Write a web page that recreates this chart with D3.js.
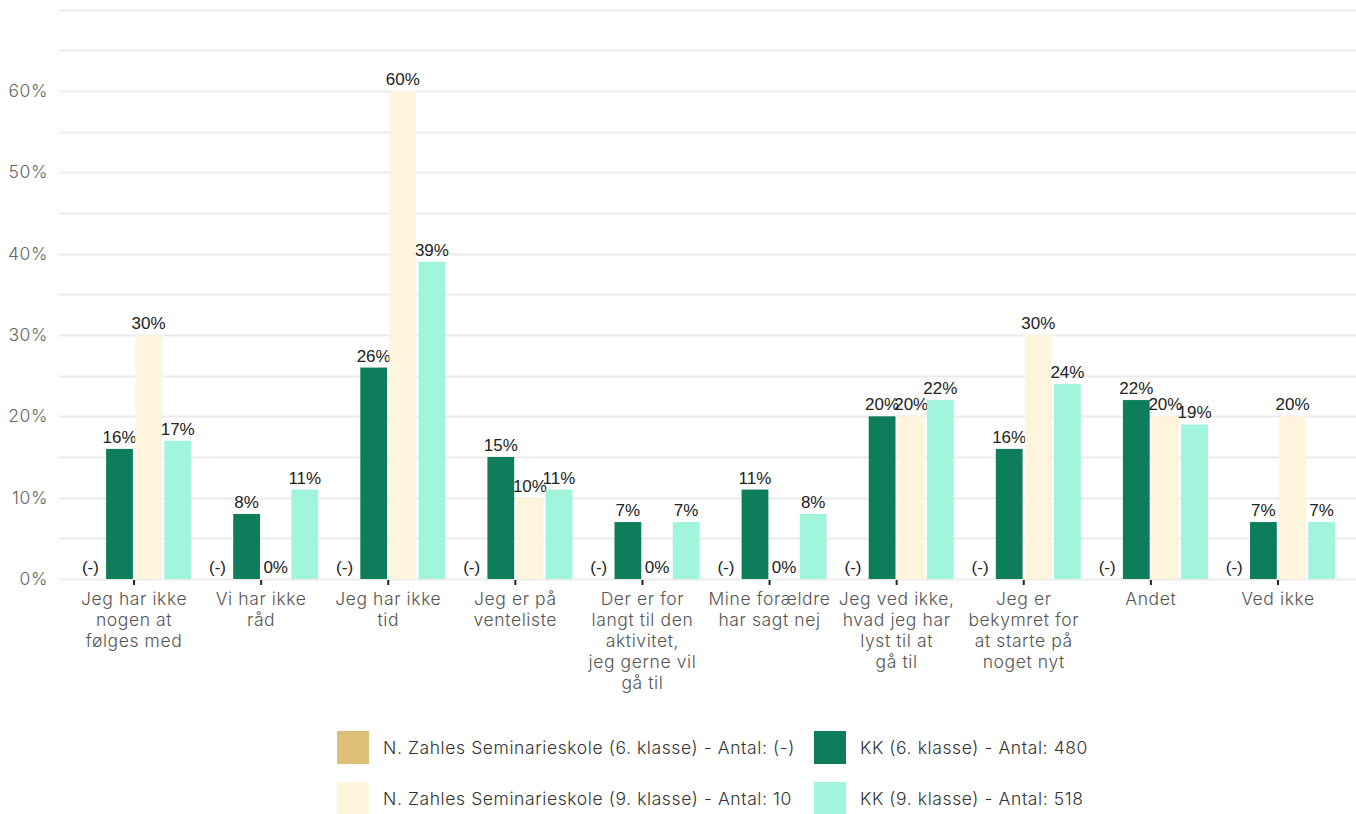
<!DOCTYPE html>
<html>
<head>
<meta charset="utf-8">
<script src="https://cdn.jsdelivr.net/npm/d3@7"></script>
<style>
  body { margin: 0; background: #fff; }
  svg { display: block; }
  .lbl { font-family: Inter, Lato, sans-serif; font-weight: 300; letter-spacing: 0.6px; }
</style>
</head>
<body>
<div id="chart"></div>
<script>
(function() {
  var width = 1356,
      height = 814;

  // data
  var categories = [
    ["Jeg har ikke", "nogen at", "følges med"],
    ["Vi har ikke", "råd"],
    ["Jeg har ikke", "tid"],
    ["Jeg er på", "venteliste"],
    ["Der er for", "langt til den", "aktivitet,", "jeg gerne vil", "gå til"],
    ["Mine forældre", "har sagt nej"],
    ["Jeg ved ikke,", "hvad jeg har", "lyst til at", "gå til"],
    ["Jeg er", "bekymret for", "at starte på", "noget nyt"],
    ["Andet"],
    ["Ved ikke"]
  ];
  var seriesNames = [
    "N. Zahles Seminarieskole (6. klasse) - Antal: (-)",
    "KK (6. klasse) - Antal: 480",
    "N. Zahles Seminarieskole (9. klasse) - Antal: 10",
    "KK (9. klasse) - Antal: 518"
  ];
  var seriesColors = ["#dcc078", "#0e7d5c", "#fff5dc", "#a2f5dd"];
  var nzahles6 = [null, null, null, null, null, null, null, null, null, null];
  var kk6 = [16, 8, 26, 15, 7, 11, 20, 16, 22, 7];
  var nzahles9 = [30, 0, 60, 10, 0, 0, 20, 30, 20, 20];
  var kk9 = [17, 11, 39, 11, 7, 8, 22, 24, 19, 7];
  var yTicks = [0, 10, 20, 30, 40, 50, 60];

  var seriesValues = [nzahles6, kk6, nzahles9, kk9];

  var svg = d3.select("#chart")
    .append("svg")
    .attr("width", width)
    .attr("height", height);

  var y = d3.scaleLinear()
    .domain([0, 70])
    .range([579, 9.7]);

  var x = d3.scaleBand()
    .domain(d3.range(categories.length))
    .range([70.5, 1341.5])
    .padding(0);

  var x1 = d3.scaleBand()
    .domain(d3.range(seriesNames.length))
    .range([6.5, x.bandwidth() - 6.5])
    .paddingInner(0.08);

  // gridlines every 5%
  svg.append("g")
    .attr("class", "grid")
    .selectAll("line")
    .data(d3.range(0, 71, 5))
    .enter().append("line")
      .attr("x1", 59)
      .attr("x2", width)
      .attr("y1", function(d) { return Math.round(y(d)) + 0.5; })
      .attr("y2", function(d) { return Math.round(y(d)) + 0.5; })
      .attr("stroke", "#ebebeb")
      .attr("stroke-width", 2);

  // y tick labels
  svg.append("g")
    .selectAll("text")
    .data(yTicks)
    .enter().append("text")
      .attr("class", "lbl")
      .attr("x", 48)
      .attr("y", function(d) { return y(d); })
      .attr("dy", "0.35em")
      .attr("text-anchor", "end")
      .style("font-size", "17.5px")
      .style("fill", "#666")
      .text(function(d) { return d + "%"; });

  // bars
  var groups = svg.append("g")
    .selectAll("g")
    .data(categories)
    .enter().append("g")
      .attr("transform", function(d, i) { return "translate(" + x(i) + ",0)"; });

  groups.each(function(cat, ci) {
    var g = d3.select(this);
    seriesValues.forEach(function(vals, si) {
      var v = vals[ci];
      var bx = x1(si), bw = x1.bandwidth();
      if (v !== null) {
        g.append("rect")
          .attr("x", bx)
          .attr("width", bw)
          .attr("y", y(v))
          .attr("height", y(0) - y(v))
          .attr("fill", seriesColors[si]);
      }
      g.append("text")
        .attr("x", bx + bw / 2)
        .attr("y", (v === null ? y(0) : y(v)) - 6)
        .attr("text-anchor", "middle")
        .style("font-family", "'Liberation Sans', Arial, sans-serif")
        .style("font-size", "17px")
        .style("fill", "#222")
        .text(v === null ? "(-)" : v + "%");
    });
  });

  // x axis ticks
  svg.append("g")
    .selectAll("line")
    .data(categories)
    .enter().append("line")
      .attr("x1", function(d, i) { return x(i) + x.bandwidth() / 2; })
      .attr("x2", function(d, i) { return x(i) + x.bandwidth() / 2; })
      .attr("y1", 580)
      .attr("y2", 585)
      .attr("stroke", "#222")
      .attr("stroke-width", 2);

  // x axis labels
  svg.append("g")
    .selectAll("text")
    .data(categories)
    .enter().append("text")
      .attr("class", "lbl")
      .attr("x", function(d, i) { return x(i) + x.bandwidth() / 2; })
      .attr("y", 605)
      .attr("text-anchor", "middle")
      .style("font-size", "17.5px")
      .style("fill", "#555")
      .each(function(lines) {
        var t = d3.select(this);
        lines.forEach(function(line, li) {
          t.append("tspan")
            .attr("x", t.attr("x"))
            .attr("dy", li === 0 ? 0 : 21)
            .text(line);
        });
      });

  // legend
  var legendPos = [
    {x: 337, y: 731},
    {x: 814, y: 731},
    {x: 337, y: 782},
    {x: 814, y: 782}
  ];

  var legend = svg.append("g")
    .selectAll("g")
    .data(seriesNames)
    .enter().append("g")
      .attr("transform", function(d, i) { return "translate(" + legendPos[i].x + "," + legendPos[i].y + ")"; });

  legend.append("rect")
    .attr("width", 32)
    .attr("height", 33)
    .attr("fill", function(d, i) { return seriesColors[i]; });

  legend.append("text")
    .attr("class", "lbl")
    .attr("x", 46)
    .attr("y", 17)
    .attr("dy", "0.35em")
    .style("font-size", "17.5px")
    .style("fill", "#333")
    .text(function(d) { return d; });
})();
</script>
</body>
</html>
